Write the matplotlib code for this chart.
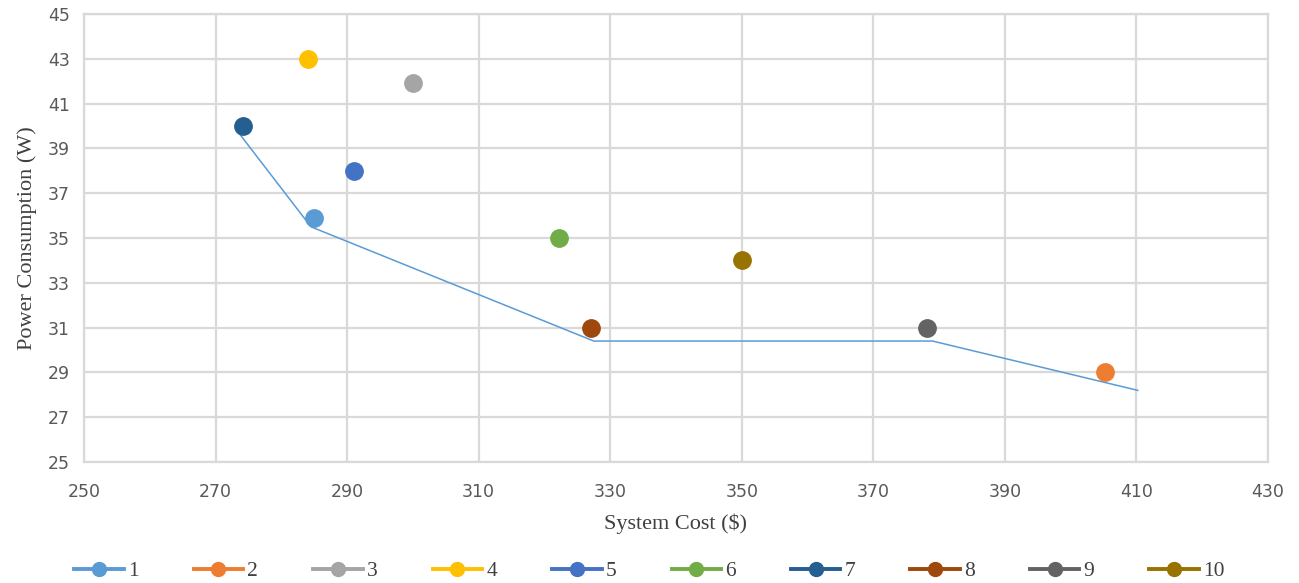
import matplotlib.pyplot as plt
from matplotlib.lines import Line2D

# design points: system cost ($) vs power consumption (W)
labels = ["1", "2", "3", "4", "5", "6", "7", "8", "9", "10"]
cost = [285.0, 405.2, 300.0, 284.0, 291.0, 322.2, 274.2, 327.1, 378.2, 350.0]
power = [35.9, 29.0, 41.9, 43.0, 38.0, 35.0, 40.0, 31.0, 31.0, 34.0]
colors = ["#5B9BD5", "#ED7D31", "#A5A5A5", "#FFC000", "#4472C4",
          "#70AD47", "#255E91", "#9E480E", "#636363", "#997300"]

# pareto front line
front_cost = [273.5, 284.5, 327.5, 379.0, 410.2]
front_power = [39.7, 35.5, 30.4, 30.4, 28.2]

fig = plt.figure(figsize=(12.99, 5.83), dpi=100)
ax = fig.add_axes([0.0647, 0.2075, 0.9114, 0.7685])

ax.plot(front_cost, front_power, color="#5B9BD5", lw=1.1, zorder=2)
for c, p, col in zip(cost, power, colors):
    ax.plot(c, p, "o", color=col, ms=12.5, mec=col, zorder=3)

ax.set_xlim(250, 430)
ax.set_ylim(25, 45)
ax.set_xticks(range(250, 431, 20))
ax.set_yticks(range(25, 46, 2))
ax.grid(True, color="#D9D9D9", lw=1.6)
ax.set_axisbelow(True)
for s in ax.spines.values():
    s.set_color("#D9D9D9")
    s.set_linewidth(1.6)
ax.tick_params(length=0, labelsize=12.5, colors="#595959")
ax.tick_params(axis="x", pad=15)
ax.tick_params(axis="y", pad=10)

ax.set_xlabel("System Cost ($)", family="Liberation Serif", fontsize=16,
              color="#404040", labelpad=9)
ax.set_ylabel("Power Consumption (W)", family="Liberation Serif", fontsize=16,
              color="#404040", labelpad=8)

handles = [Line2D([0], [0], color=col, lw=2.8, marker="o", ms=10, mec=col)
           for col in colors]
leg = fig.legend(handles, labels, loc="lower center", bbox_to_anchor=(0.5, -0.03),
                 ncol=10, frameon=False, handlelength=2.3, handletextpad=0.2,
                 columnspacing=2.55, prop={"family": "Liberation Serif", "size": 15.5})
for t in leg.get_texts():
    t.set_color("#404040")

fig.savefig("out.png", dpi=100)
